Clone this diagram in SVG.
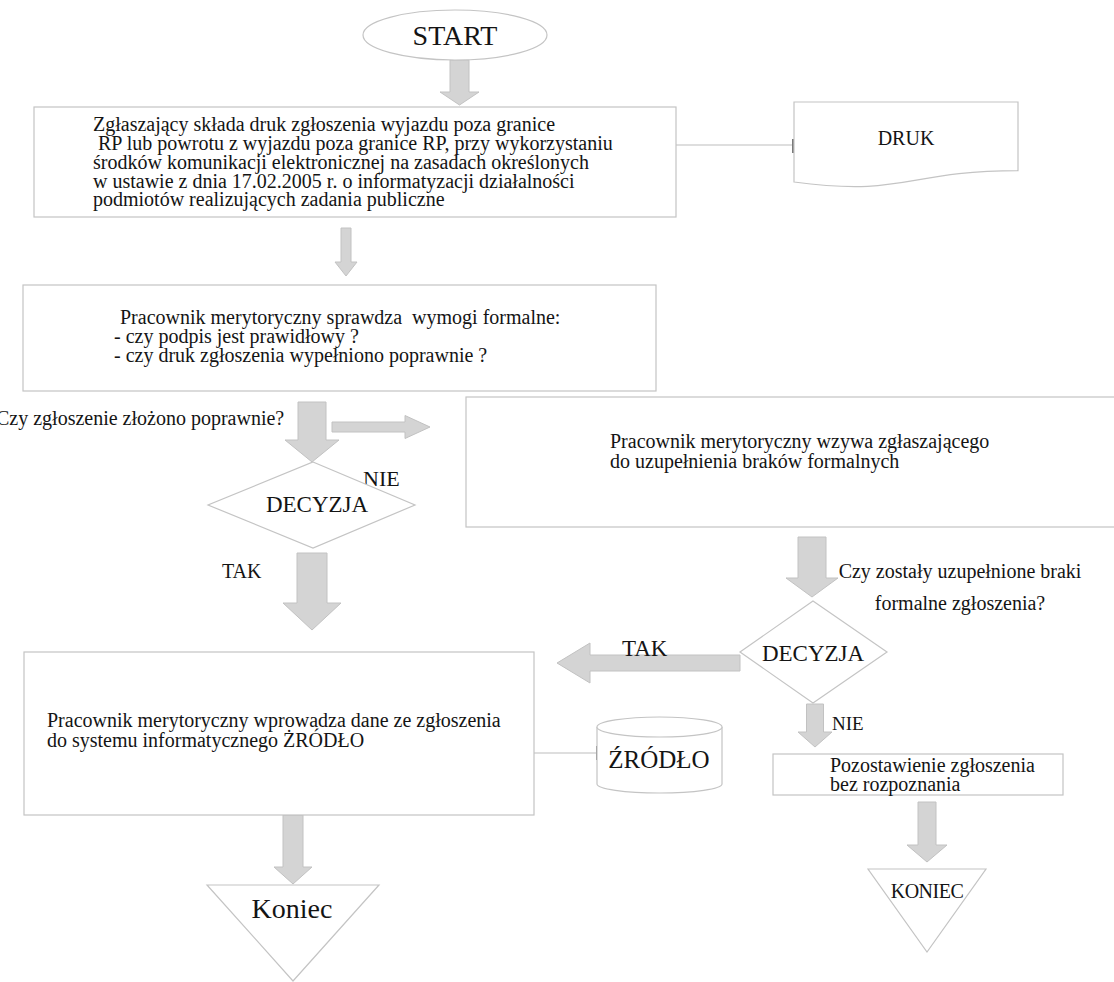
<svg xmlns="http://www.w3.org/2000/svg" width="1114" height="982" viewBox="0 0 1114 982">
<style>
.shape{fill:#fff;stroke:#c4c4c4;stroke-width:1.2}
.arr{fill:#d4d4d4;stroke:#c2c2c2;stroke-width:1}
.conn{stroke:#bdbdbd;stroke-width:1.2;fill:none}
.tick{fill:#7a7a7a}
text{font-family:"Liberation Serif","Times New Roman",serif;fill:#141414;font-size:20px}
.mid{text-anchor:middle}
</style>
<rect width="1114" height="982" fill="#fff"/>
<g id="connectors">
<polygon class="arr" points="450,60 469,60 469,92 479,92 459.5,105 440,92 450,92"/>
<polygon class="arr" points="341,228 351,228 351,262 357,262 346,276 335,262 341,262"/>
<polygon class="arr" points="298,402 326,402 326,440 339,440 312,462 285,440 298,440"/>
<polygon class="arr" points="332,422 405,422 405,415.5 430,427 405,438.5 405,432 332,432"/>
<polygon class="arr" points="297,553 327,553 327,603 341,603 312,630 283,603 297,603"/>
<polygon class="arr" points="798,537 826,537 826,578 838,578 812,597 786,578 798,578"/>
<polygon class="arr" points="740,655 590,655 590,643 557,663 590,683 590,671 740,671"/>
<polygon class="arr" points="806.5,704 823.5,704 823.5,732 832,732 815,747 798,732 806.5,732"/>
<polygon class="arr" points="918,802 936,802 936,845 947,845 927,862 907,845 918,845"/>
<polygon class="arr" points="283,815 303,815 303,867 312,867 293,884 274,867 283,867"/>
<line class="conn" x1="676" y1="145" x2="793" y2="145"/>
<rect class="tick" x="792" y="139" width="3" height="14"/>
<line class="conn" x1="534" y1="753" x2="597" y2="753"/>
<rect class="tick" x="596" y="746" width="3" height="14"/>
</g>
<g id="start">
<ellipse class="shape" cx="455" cy="35" rx="92" ry="25"/>
<text x="455" y="45" class="mid" style="font-size:28px">START</text>
</g>
<g id="box1">
<rect class="shape" x="34" y="107" width="642" height="110"/>
<text x="93" y="131">Zgłaszający składa druk zgłoszenia wyjazdu poza granice</text>
<text x="98" y="150">RP lub powrotu z wyjazdu poza granice RP, przy wykorzystaniu</text>
<text x="93" y="169">środków komunikacji elektronicznej na zasadach określonych</text>
<text x="93" y="188">w ustawie z dnia 17.02.2005 r. o informatyzacji działalności</text>
<text x="93" y="206">podmiotów realizujących zadania publiczne</text>
</g>
<g id="druk">
<path class="shape" d="M794,102 H1018 V170.7 C906,170.7 906,196.9 794,182 Z"/>
<text x="906" y="145" class="mid">DRUK</text>
</g>
<g id="box2">
<rect class="shape" x="23" y="285" width="633" height="106"/>
<text x="120" y="324" xml:space="preserve">Pracownik merytoryczny sprawdza  wymogi formalne:</text>
<text x="114" y="343">- czy podpis jest prawidłowy ?</text>
<text x="114" y="362">- czy druk zgłoszenia wypełniono poprawnie ?</text>
</g>
<g id="q1">
<text x="-4" y="425">Czy zgłoszenie złożono poprawnie?</text>
<text x="363" y="486" style="font-size:22px">NIE</text>
</g>
<g id="decision1">
<polygon class="shape" points="313,462 415,505 313,548 208,505"/>
<text x="317" y="512" class="mid" style="font-size:23px">DECYZJA</text>
</g>
<g id="box3">
<rect class="shape" x="466" y="397" width="660" height="130"/>
<text x="610" y="448">Pracownik merytoryczny wzywa zgłaszającego</text>
<text x="610" y="468">do uzupełnienia braków formalnych</text>
</g>
<g id="q2">
<text x="960" y="578" class="mid">Czy zostały uzupełnione braki</text>
<text x="960" y="610" class="mid">formalne zgłoszenia?</text>
</g>
<g id="tak1">
<text x="222" y="578">TAK</text>
</g>
<g id="decision2">
<polygon class="shape" points="813,601 887,652 813,703 740,652"/>
<text x="813" y="661" class="mid" style="font-size:23px">DECYZJA</text>
<text x="622" y="656" style="font-size:23px">TAK</text>
<text x="832" y="730" style="font-size:19px">NIE</text>
</g>
<g id="box4">
<rect class="shape" x="24" y="652" width="510" height="163"/>
<text x="47" y="727">Pracownik merytoryczny wprowadza dane ze zgłoszenia</text>
<text x="47" y="747">do systemu informatycznego ŻRÓDŁO</text>
</g>
<g id="zrodlo">
<path class="shape" d="M597,727 V784 A62.5,9 0 0 0 722,784 V727"/>
<ellipse class="shape" cx="659.5" cy="727" rx="62.5" ry="10"/>
<text x="659" y="768" class="mid" style="font-size:25px">ŹRÓDŁO</text>
</g>
<g id="box5">
<rect class="shape" x="773" y="754" width="290" height="41"/>
<text x="830" y="772">Pozostawienie zgłoszenia</text>
<text x="830" y="791">bez rozpoznania</text>
</g>
<g id="koniec1">
<polygon class="shape" points="207,885 379,885 293,981"/>
<text x="292" y="918" class="mid" style="font-size:28px">Koniec</text>
</g>
<g id="koniec2">
<polygon class="shape" points="868,869 986,869 927,952"/>
<text x="927" y="898" class="mid" style="font-size:20px;letter-spacing:-0.5px">KONIEC</text>
</g>
</svg>
